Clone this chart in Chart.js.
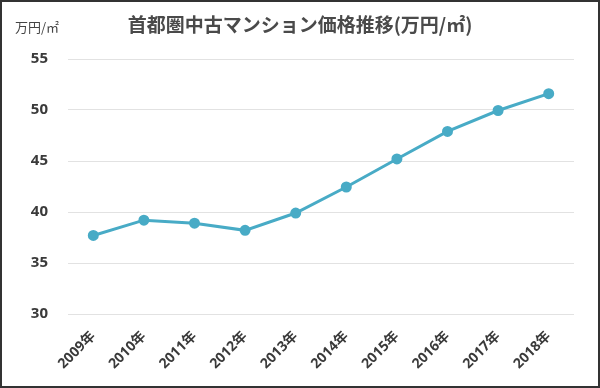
<!DOCTYPE html>
<html>
<head>
<meta charset="utf-8">
<script src="https://cdn.jsdelivr.net/npm/chart.js@4"></script>
<style>
  html, body { margin: 0; padding: 0; background: #fff; }
  #wrap {
    width: 600px; height: 388px; box-sizing: border-box;
    border: 2px solid #333; position: relative;
  }
  canvas { display: block; }
</style>
</head>
<body>
<div id="wrap"><canvas id="chart" width="596" height="384"></canvas></div>
<script>
// データ
const years = ["2009年", "2010年", "2011年", "2012年", "2013年", "2014年", "2015年", "2016年", "2017年", "2018年"];
const prices = [37.7, 39.2, 38.9, 38.2, 39.9, 42.45, 45.2, 47.9, 49.95, 51.6];
const yTicks = [30, 35, 40, 45, 50, 55];

const titleText = "首都圏中古マンション価格推移(万円/㎡)";
const unitText = "万円/㎡";
const tickFont = '"Open Sans", "Noto Sans CJK JP", sans-serif';

const ctx = document.getElementById("chart").getContext("2d");

new Chart(ctx, {
  type: "line",
  data: {
    labels: years,
    datasets: [
      {
        data: prices,
        borderColor: "#48abc6",
        backgroundColor: "#48abc6",
        borderWidth: 3,
        pointRadius: 4,
        pointHoverRadius: 5,
        tension: 0,
      },
    ],
  },
  plugins: [
    {
      id: "headText", // タイトルと単位
      afterDraw(chart) {
        const c = chart.ctx;
        c.save();
        c.fillStyle = "#4a4a4a";
        c.textBaseline = "middle";
        c.textAlign = "center";
        c.font = 'bold 19px "Noto Sans CJK JP", sans-serif';
        c.fillText(titleText, 298, 23);
        c.textAlign = "left";
        c.fillStyle = "#444";
        c.font = '13px "Noto Sans CJK JP", sans-serif';
        c.fillText(unitText, 13, 25);
        c.restore();
      },
    },
  ],
  options: {
    responsive: false,
    animation: false,
    layout: { padding: { top: 57, right: 24, left: 0, bottom: 0 } },
    plugins: {
      legend: { display: false },
      title: { display: false },
      tooltip: { enabled: false },
    },
    scales: {
      x: {
        offset: true,
        grid: { display: false },
        border: { display: false },
        afterFit(scale) { scale.height = 72; },
        ticks: {
          minRotation: 45,
          maxRotation: 45,
          color: "#3a3a3a",
          padding: 6,
          font: { family: tickFont, size: 14, weight: "bold" },
        },
      },
      y: {
        min: yTicks[0],
        max: yTicks[yTicks.length - 1],
        afterFit(scale) { scale.width = 66; },
        afterBuildTicks(scale) { scale.ticks = yTicks.map((v) => ({ value: v })); },
        grid: { color: "#e2e2e2", drawTicks: false, lineWidth: 1 },
        border: { display: false },
        ticks: {
          color: "#3a3a3a",
          padding: 20,
          font: { family: tickFont, size: 15, weight: "bold" },
        },
      },
    },
  },
});
</script>
</body>
</html>
